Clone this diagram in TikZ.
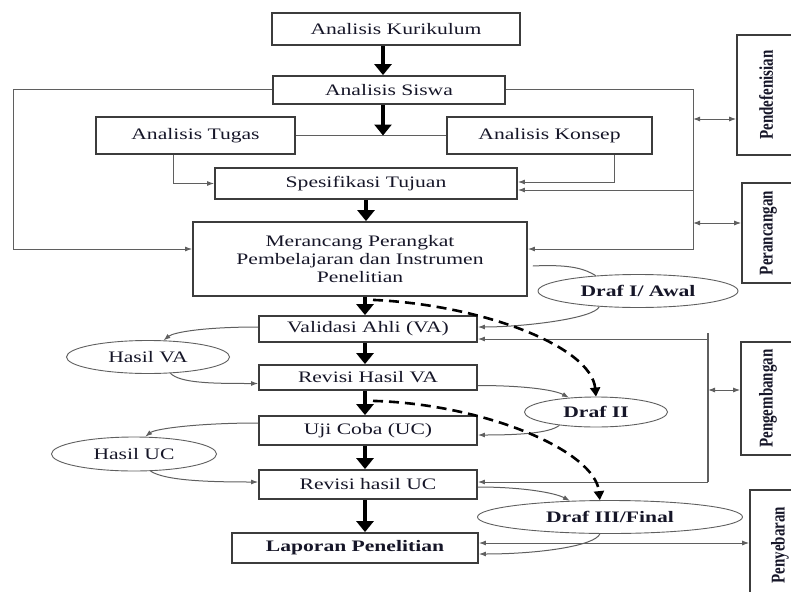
\documentclass[tikz,border=0pt]{standalone}
\usepackage{fontspec}
\setmainfont{Liberation Serif}[FakeStretch=1.35]
\newfontfamily\sidefont{Liberation Serif}
\usetikzlibrary{arrows.meta,calc,shapes.geometric}
\definecolor{txt}{RGB}{22,22,40}
\definecolor{edge}{RGB}{60,60,60}
\definecolor{thin}{RGB}{95,95,95}
\newcommand{\sidelabel}[1]{\rotatebox{90}{\scalebox{1}[1.3]{#1}}}
\begin{document}
\begin{tikzpicture}[x=1pt,y=-1pt,
  box/.style={draw=edge,line width=1.8pt,rectangle,inner sep=0pt,text=txt,font=\fontsize{16}{18}\selectfont,align=center},
  oval/.style={draw=thin,line width=0.9pt,ellipse,inner sep=0pt,text=txt,font=\fontsize{16}{18}\selectfont},
  side/.style={draw=edge,line width=1.6pt,rectangle,inner sep=0pt,text=txt,font=\sidefont\fontsize{15}{17}\selectfont\bfseries},
  big/.style={line width=4pt,draw=black,-{Triangle[width=17pt,length=11pt]}},
  ln/.style={draw=thin,line width=1pt},
  arr/.style={ln,-{Latex[length=7pt,width=5pt]}},
  dbl/.style={ln,{Latex[length=7pt,width=5pt]}-{Latex[length=7pt,width=5pt]}},
  dsh/.style={line width=2.6pt,draw=black,dash pattern=on 10pt off 6pt,-{Triangle[width=10pt,length=9pt]}}
]
\useasboundingbox (0,0) rectangle (791,591);

% main boxes
\node[box,minimum width=248pt,minimum height=32pt] (kur) at (396,29) {Analisis Kurikulum};
\node[box,minimum width=232pt,minimum height=28pt] (sis) at (389,90) {Analisis Siswa};
\node[box,minimum width=199pt,minimum height=37pt] (tug) at (195.5,135.5) {Analisis Tugas};
\node[box,minimum width=205pt,minimum height=37pt] (kon) at (549.5,135.5) {Analisis Konsep};
\node[box,minimum width=302pt,minimum height=31pt] (spe) at (366,183.5) {Spesifikasi Tujuan};
\node[box,minimum width=334pt,minimum height=74pt] (mer) at (360,259) {Merancang Perangkat\\Pembelajaran dan Instrumen\\Penelitian};
\node[box,minimum width=218pt,minimum height=26pt] (val) at (368,329) {Validasi Ahli (VA)};
\node[box,minimum width=218pt,minimum height=25pt] (rva) at (368,377.5) {Revisi Hasil VA};
\node[box,minimum width=218pt,minimum height=29pt] (uji) at (368,430.5) {Uji Coba (UC)};
\node[box,minimum width=218pt,minimum height=29pt] (ruc) at (368,484.5) {Revisi hasil UC};
\node[box,minimum width=246pt,minimum height=30pt,font=\fontsize{16}{18}\selectfont\bfseries] (lap) at (355,548) {Laporan Penelitian};

% ellipses
\node[oval,minimum width=200pt,minimum height=33pt,font=\fontsize{16}{18}\selectfont\bfseries] (d1) at (638,291) {Draf I/ Awal};
\node[oval,minimum width=163pt,minimum height=33pt] (hva) at (148,357) {Hasil VA};
\node[oval,minimum width=143pt,minimum height=30pt,font=\fontsize{16}{18}\selectfont\bfseries] (d2) at (596,412) {Draf II};
\node[oval,minimum width=165pt,minimum height=34pt] (huc) at (134,454) {Hasil UC};
\node[oval,minimum width=265pt,minimum height=33pt,font=\fontsize{16}{18}\selectfont\bfseries] (d3) at (610,517) {Draf III/Final};

% side boxes
\node[side,minimum width=58pt,minimum height=120pt] (p1) at (766,95) {\sidelabel{Pendefenisian}};
\node[side,minimum width=53pt,minimum height=100pt] (p2) at (768.5,233) {\sidelabel{Perancangan}};
\node[side,minimum width=54pt,minimum height=113pt] (p3) at (768,398.5) {\sidelabel{Pengembangan}};
\node[side,minimum width=60pt,minimum height=110pt] (p4) at (780,545) {\sidelabel{Penyebaran}};

% thick main arrows
\coordinate (j) at (383,135.5);
\draw[ln] (tug.east) -- (kon.west);
\draw[big] ($(kur.south)+(-13,0)$) -- ($(sis.north)+(-6,0)$);
\draw[big] ($(sis.south)+(-6,0)$) -- (j);
\draw[big] (spe.south) -- (spe.south |- mer.north);
\draw[big] ($(mer.south)+(5,0)$) -- ($(val.north)+(-3,0)$);
\draw[big] ($(val.south)+(-3,0)$) -- ($(rva.north)+(-3,0)$);
\draw[big] ($(rva.south)+(-3,0)$) -- ($(uji.north)+(-3,0)$);
\draw[big] ($(uji.south)+(-3,0)$) -- ($(ruc.north)+(-3,0)$);
\draw[big] ($(ruc.south)+(-3,0)$) -- ($(lap.north)+(10,0)$);

% tugas / konsep to spesifikasi
\draw[arr] ($(tug.south)+(-22.5,0)$) |- (spe.west);
\draw[arr] ($(kon.south)+(65,0)$) |- ($(spe.east)+(0,-1.5)$);

% left loop
\coordinate (lt) at (13,90);
\coordinate (lb) at (13,249);
\draw[arr] (sis.west) -- (lt) -- (lb) -- ($(mer.west)+(0,-10)$);

% right loop
\coordinate (rt) at (693,90);
\coordinate (rb) at (693,249);
\coordinate (rs) at (693,190);
\coordinate (r1) at (693,119);
\coordinate (r2) at (693,223);
\draw[arr] (sis.east) -- (rt) -- (rb) -- ($(mer.east)+(0,-10)$);
\draw[arr] (rs) -- ($(spe.east)+(0,6.5)$);
\draw[dbl] (r1) -- (r1 -| p1.west);
\draw[dbl] (r2) -- (r2 -| p2.west);

% pengembangan bracket
\coordinate (vt) at (708,333);
\coordinate (vb) at (708,482);
\coordinate (v1) at (708,339);
\coordinate (v2) at (708,390);
\draw[ln,line width=1.5pt] (vt) -- (vb);
\draw[arr] (v1) -- (v1 -| val.east);
\draw[arr] (vb) -- (vb -| ruc.east);
\draw[dbl] (v2) -- (v2 -| p3.west);

% penyebaran
\coordinate (le) at ($(lap.east)+(0,-5)$);
\draw[dbl] (le) -- (le -| p4.west);

% draft curves
\draw[ln] ($(mer.east)+(5,7)$) .. controls +(40,-2) and +(-10,-6) .. (d1.160);
\draw[arr] (d1.202) .. controls +(-5,12) and +(45,0) .. ($(val.east)+(0,-2)$);
\draw[arr] ($(val.west)+(0,-2)$) .. controls +(-55,0) and +(10,-8) .. (hva.47);
\draw[arr] (hva.324) .. controls +(10,10) and +(-45,0) .. ($(rva.west)+(0,6)$);
\draw[arr] ($(rva.east)+(0,8)$) .. controls +(45,0) and +(-15,-8) .. (d2.152);
\draw[arr] (d2.200) .. controls +(-10,8) and +(40,0) .. ($(uji.east)+(0,4.5)$);
\draw[arr] ($(uji.west)+(0,-7.5)$) .. controls +(-60,0) and +(10,-8) .. (huc.57);
\draw[arr] (huc.-46) .. controls +(15,10) and +(-45,0) .. ($(ruc.west)+(0,-2.5)$);
\draw[arr] ($(ruc.east)+(0,2.5)$) .. controls +(45,0) and +(-15,-8) .. (d3.158);
\draw[arr] (d3.239) .. controls +(-5,12) and +(60,0) .. ($(lap.east)+(0,6)$);

% dashed flows
\draw[dsh] ($(mer.south)+(13,3)$) .. controls +(110,5) and +(-5,-50) .. (d2.north);
\draw[dsh] ($(rva.south)+(5,10)$) .. controls +(110,3) and +(-5,-50) .. (d3.121);
\end{tikzpicture}
\end{document}
